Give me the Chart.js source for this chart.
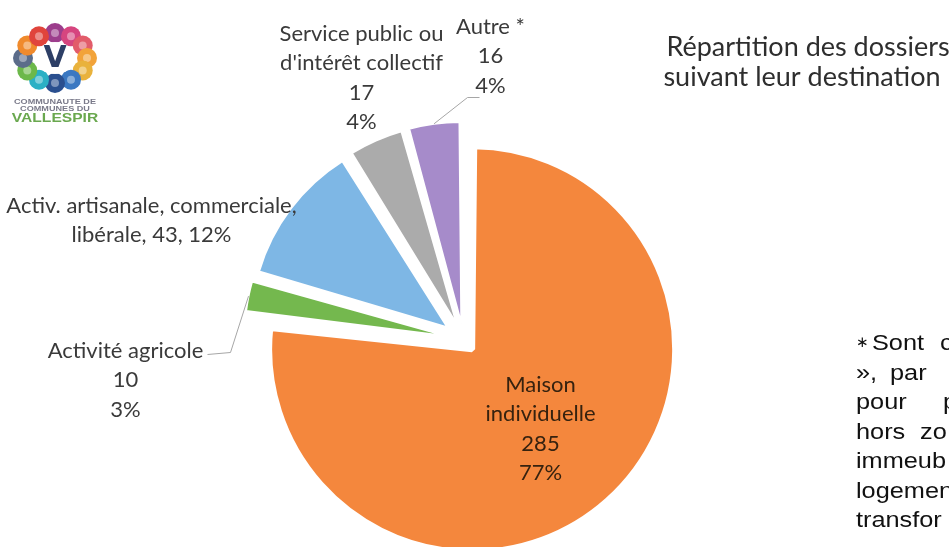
<!DOCTYPE html>
<html lang="fr">
<head>
<meta charset="utf-8">
<title>Répartition des dossiers suivant leur destination</title>
<script src="https://cdn.jsdelivr.net/npm/chart.js@4.4.1/dist/chart.umd.min.js"></script>
<style>
  html, body { margin: 0; padding: 0; background: #fff; overflow: hidden; }
  #wrap { position: relative; width: 949px; height: 547px; }
  #box { position: absolute; left: 0; top: 0; width: 949px; height: 547px; }
  #logo { position: absolute; left: 0; top: 0; }
</style>
</head>
<body>
<div id="wrap">
  <div id="box"><canvas id="chart"></canvas></div>
  <canvas id="logo" width="120" height="130"></canvas>
</div>
<script>
// Values
const categories = ['Maison\nindividuelle', 'Activité agricole', 'Activ. artisanale, commerciale,\nlibérale', "Service public ou\nd'intérêt collectif", 'Autre *'];
const dossiers = [285, 10, 43, 17, 16];
const percentLabels = ['77%', '3%', '12%', '4%', '4%'];
const separators = ['\n', '\n', ', ', '\n', '\n'];

// Styling
const sliceColors = ['#F4873D', '#74B84E', '#7EB7E5', '#ABABAB', '#A68BCA'];
const arcOffsets = [52, 64, 80, 64, 64];
const arcBorders = [6, 2, 2, 2, 2];
const lineHeight = 29.5;

// label anchor (centre x, first baseline), relative to the pie centre
const labelPlacement = [
    { dx: 77, dy: 52 },
    { dx: -338, dy: 18 },
    { dx: -312, dy: -127 },
    { dx: -102, dy: -299 },
    { dx: 27, dy: -306 }
];
// leader line points after the slice edge, relative to the pie centre
const leaderLines = [null, [[-233, 13], [-256, 15]], null, null, [[4, -242], [16, -242]]];

const footnote = [
    ['Sont', 872, 0], ['c', 940, 0],
    ['»,', 856, 1], ['par', 890, 1],
    ['pour', 856, 2], ['p', 943, 2],
    ['hors', 856, 3], ['zo', 920, 3],
    ['immeub', 856, 4],
    ['logemen', 856, 5],
    ['transfor', 856, 6]
];

// Draw slice labels with leader lines
const sliceLabels = {
    id: 'sliceLabels',
    afterDatasetsDraw(chart) {
        const ctx = chart.ctx;
        const meta = chart.getDatasetMeta(0);
        ctx.save();
        ctx.textAlign = 'center';
        ctx.textBaseline = 'alphabetic';
        ctx.font = '22px Lato';
        meta.data.forEach((arc, i) => {
            const p = arc.getProps(['x', 'y', 'startAngle', 'endAngle', 'outerRadius'], true);
            const lead = leaderLines[i];
            if (lead) {
                const off = arcOffsets[i] / 4;
                const mid = (p.startAngle + p.endAngle) / 2;
                const fix = 1 - Math.sin(Math.min(Math.PI, p.endAngle - p.startAngle));
                const r = p.outerRadius + off * fix + off;
                ctx.strokeStyle = '#A6A6A6';
                ctx.lineWidth = 1;
                ctx.beginPath();
                ctx.moveTo(p.x + Math.cos(mid) * r, p.y + Math.sin(mid) * r);
                lead.forEach(pt => ctx.lineTo(p.x + pt[0], p.y + pt[1]));
                ctx.stroke();
            }
            const text = categories[i] + separators[i] + dossiers[i] + separators[i] + percentLabels[i];
            const bx = p.x + labelPlacement[i].dx;
            const by = p.y + labelPlacement[i].dy;
            ctx.fillStyle = i === 0 ? '#36220F' : '#3A3A3A';
            text.split('\n').forEach((line, k) => ctx.fillText(line, bx, by + k * lineHeight));
        });
        ctx.restore();
    },
    afterDraw(chart) {
        const ctx = chart.ctx;
        ctx.save();
        // title
        ctx.fillStyle = '#2E2E2E';
        ctx.font = '27px Lato';
        ctx.textAlign = 'center';
        ctx.fillText('Répartition des dossiers', 808, 56);
        ctx.fillText('suivant leur destination', 802, 86);
        // footnote, cut off at the right edge
        ctx.fillStyle = '#111111';
        ctx.textAlign = 'left';
        ctx.font = '15px "DejaVu Sans"';
        ctx.fillText('\u2217', 856, 347);
        ctx.font = '22px "Liberation Sans"';
        footnote.forEach(([t, x, row]) => {
            ctx.save();
            ctx.translate(x, 350 + row * 29.5);
            ctx.scale(1.15, 1);
            ctx.fillText(t, 0, 0);
            ctx.restore();
        });
        ctx.restore();
    }
};

new Chart(document.getElementById('chart'), {
    type: 'pie',
    data: {
        labels: categories.map(c => c.replace('\n', ' ')),
        datasets: [{
            data: dossiers,
            backgroundColor: sliceColors,
            borderColor: '#FFFFFF',
            borderWidth: arcBorders,
            offset: arcOffsets,
            clip: false
        }]
    },
    options: {
        responsive: true,
        maintainAspectRatio: false,
        animation: false,
        radius: 190,
        layout: { padding: { left: 0, right: 22, top: 132, bottom: 0 } },
        plugins: {
            legend: { display: false },
            title: { display: false },
            tooltip: { enabled: false }
        },
        events: []
    },
    plugins: [sliceLabels]
});

// Community logo (top left)
function drawLogo() {
    const c = document.getElementById('logo').getContext('2d');
    const colors = ['#9C3D8C', '#D6457F', '#E25C6A', '#F2A33A', '#E9B23C', '#3A78C2',
        '#2A4F8F', '#2AB0C5', '#6CB84A', '#5B6C8A', '#F08A2C', '#E0443C'];
    const cx = 55, cy = 58;
    colors.forEach((col, k) => {
        const a = -Math.PI / 2 + k * Math.PI * 2 / colors.length;
        const x = cx + Math.cos(a) * 32, y = cy + Math.sin(a) * 25;
        c.fillStyle = col;
        c.beginPath(); c.arc(x, y, 10, 0, Math.PI * 2); c.fill();
        c.fillStyle = 'rgba(255,255,255,0.4)';
        c.beginPath(); c.arc(x, y, 4, 0, Math.PI * 2); c.fill();
    });
    c.fillStyle = '#FFFFFF';
    c.beginPath(); c.ellipse(cx, cy, 20, 16, 0, 0, Math.PI * 2); c.fill();
    c.fillStyle = '#2D3F66';
    c.font = 'bold 30px "DejaVu Sans"';
    c.textAlign = 'center';
    c.textBaseline = 'middle';
    c.fillText('V', cx, cy + 1);
    c.textBaseline = 'alphabetic';
    c.save(); c.translate(cx, 0); c.scale(1.3, 1);
    c.fillStyle = '#7A7A8A';
    c.font = 'bold 7px "Liberation Sans"';
    c.fillText('COMMUNAUTE DE', 0, 104);
    c.fillText('COMMUNES DU', 0, 111);
    c.fillStyle = '#6AA84F';
    c.font = 'bold 12px "Liberation Sans"';
    c.fillText('VALLESPIR', 0, 122);
    c.restore();
}
drawLogo();
</script>
</body>
</html>
